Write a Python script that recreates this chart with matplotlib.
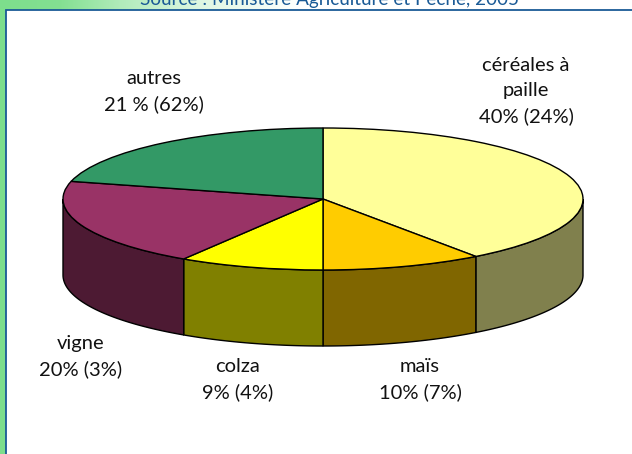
import numpy as np
import matplotlib
matplotlib.use("Agg")
import matplotlib.pyplot as plt
from matplotlib.patches import Polygon, Rectangle

W, H = 632, 454

#donnees
categories = ["céréales à\npaille\n40% (24%)", "maïs\n10% (7%)", "colza\n9% (4%)", "vigne\n20% (3%)", "autres\n21 % (62%)"]
valeurs = [40, 10, 9, 20, 21]
couleurs = ["#FFFF99", "#FFCC00", "#FFFF00", "#993366", "#339966"]
couleurs_cote = ["#80804D", "#806600", "#808000", "#4D1A33", "#1A4D33"]
pos_labels = [(526, 91), (420, 380), (238, 380), (81, 357), (154, 92)]

#geometrie du camembert, en pixels
cx, cy = 323, 199
rx, ry = 260, 71
prof = 76

plt.rcParams['font.family'] = ['Lato', 'DejaVu Sans']
fig = plt.figure(figsize=(W / 100, H / 100), dpi=100, facecolor="white")

# fond vert a gauche et en haut
fond = fig.add_axes([0, 0, 1, 1], zorder=0)
fond.axis("off")
vert = np.array([125, 222, 140]) / 255
blanc = np.array([255, 255, 255]) / 255
xs = np.array([0, 60, 120, 200, 300, W])
t = np.array([0.0, 0.05, 0.4, 0.75, 1.0, 1.0])
bande = np.array([vert + (blanc - vert) * v for v in np.interp(np.arange(W), xs, t)])[None, :, :]
fond.imshow(bande, extent=[0, W, H - 10, H], aspect="auto")
fond.add_patch(Rectangle((0, 0), 6, H, color=vert, lw=0))
fond.set_xlim(0, W)
fond.set_ylim(0, H)
fond.add_patch(Rectangle((5.5, -5), W + 10, H - 4.5, fc="white", ec="#1A5A96", lw=1.3))

ax = fig.add_axes([0, 0, 1, 1], zorder=1)
ax.patch.set_alpha(0)
wedges, _ = ax.pie(valeurs, colors=couleurs, startangle=90, counterclock=False, radius=1,
                   wedgeprops={"edgecolor": "black", "linewidth": 1.0})
ax.set_aspect("auto")
ax.set_xlim(-cx / rx, (W - cx) / rx)
ax.set_ylim((cy - H) / ry, cy / ry)
ax.axis("off")

# cotes du disque
depth = prof / ry
bornes = np.cumsum([0] + valeurs) / sum(valeurs) * 2 * np.pi
for i in range(len(valeurs)):
    a0, a1 = max(bornes[i], np.pi / 2), min(bornes[i + 1], 3 * np.pi / 2)
    if a1 <= a0:
        continue
    a = np.linspace(a0, a1, 80)
    x, y = np.sin(a), np.cos(a)
    pts = np.column_stack([np.r_[x, x[::-1]], np.r_[y, y[::-1] - depth]])
    ax.add_patch(Polygon(pts, closed=True, fc=couleurs_cote[i], ec="black", lw=1.0, zorder=0.5))

for lab, (px, py) in zip(categories, pos_labels):
    fig.text(px / W, 1 - py / H, lab, ha="center", va="center", fontsize=14.5,
             color="#111111", linespacing=1.55, zorder=5)

fig.text(329 / W, 1 - 5 / H, "Source : Ministère Agriculture et Pêche, 2005", ha="center", va="baseline",
         fontsize=13.6, color="#1A5A96", zorder=5)

fig.savefig("out.png", dpi=100)
